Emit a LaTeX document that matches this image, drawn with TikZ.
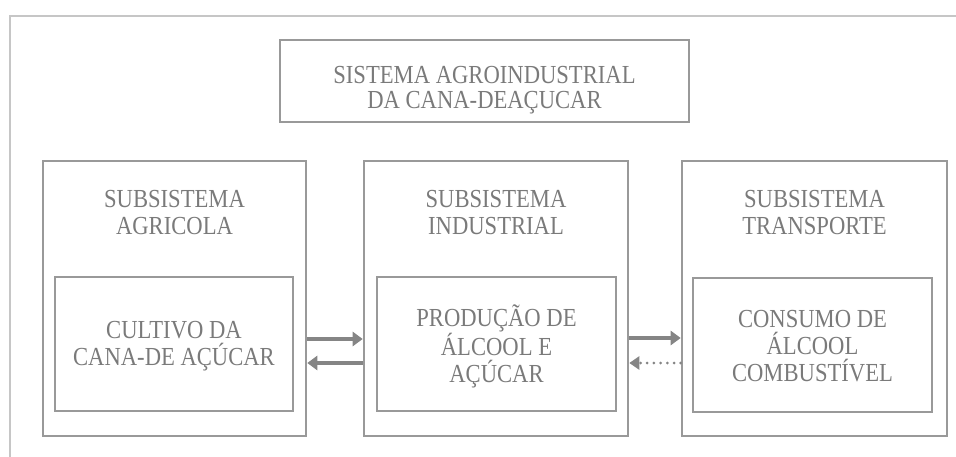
\documentclass[tikz,border=0pt]{standalone}
\usepackage{fontspec}
\setmainfont[FakeStretch=0.87]{Liberation Serif}
\usetikzlibrary{arrows.meta}
\definecolor{boxgray}{HTML}{999999}
\definecolor{txtgray}{HTML}{7A7A7A}
\definecolor{arrgray}{HTML}{858585}
\definecolor{framegray}{HTML}{C6C6C6}
\begin{document}
\begin{tikzpicture}[x=1pt,y=-1pt,
  box/.style={draw=boxgray,line width=2.6pt,inner sep=0pt},
  txt/.style={text=txtgray,align=center,font=\fontsize{26}{27}\selectfont,inner sep=0pt},
  arr/.style={draw=arrgray,line width=3.6pt,-{Triangle[length=10pt,width=14pt]}},
  dotarr/.style={draw=arrgray,line width=3pt,line cap=round,dash pattern=on 0pt off 6.7pt,-{Triangle[length=10pt,width=13pt]}}]
\useasboundingbox (0,0) rectangle (956,457);
% frame
\coordinate (fr1) at (956,16);
\coordinate (fr2) at (10,16);
\coordinate (fr3) at (10,457);
\draw[framegray,line width=1.6pt] (fr1) -- (fr2) -- (fr3);
% top box
\node[box,minimum width=409pt,minimum height=82pt] (top) at (484.5,81) {};
\node[txt,font=\fontsize{26}{25}\selectfont] (toptxt) at (484.5,90) {SISTEMA AGROINDUSTRIAL\\DA CANA-DEAÇUCAR};
% outer boxes
\node[box,minimum width=263pt,minimum height=275pt] (lout) at (174.5,298.5) {};
\node[box,minimum width=264pt,minimum height=275pt] (mout) at (496,298.5) {};
\node[box,minimum width=265pt,minimum height=275pt] (rout) at (814.5,298.5) {};
% titles
\node[txt] (ltit) at (174.5,213) {SUBSISTEMA\\AGRICOLA};
\node[txt] (mtit) at (496,213) {SUBSISTEMA\\INDUSTRIAL};
\node[txt] (rtit) at (814.5,213) {SUBSISTEMA\\TRANSPORTE};
% inner boxes
\node[box,minimum width=238pt,minimum height=134pt] (lin) at (174,344) {};
\node[box,minimum width=239pt,minimum height=134pt] (min) at (496.5,344) {};
\node[box,minimum width=239pt,minimum height=134pt] (rin) at (812.5,345) {};
\node[txt] (lintxt) at (174,346) {CULTIVO DA\\CANA-DE AÇÚCAR};
\node[txt] (mintxt) at (496.5,346) {PRODUÇÃO DE\\ÁLCOOL E\\AÇÚCAR};
\node[txt] (rintxt) at (812.5,346) {CONSUMO DE\\ÁLCOOL\\COMBUSTÍVEL};
% connectors
\draw[arr] ([yshift=-40.5pt]lout.east) -- ([yshift=-40.5pt]mout.west);
\draw[arr] ([yshift=-64.5pt]mout.west) -- ([yshift=-64.5pt]lout.east);
\draw[arr] ([yshift=-39.5pt]mout.east) -- ([yshift=-39.5pt]rout.west);
\draw[dotarr] ([yshift=-64.5pt]rout.west) -- ([yshift=-64.5pt]mout.east);
\end{tikzpicture}
\end{document}
